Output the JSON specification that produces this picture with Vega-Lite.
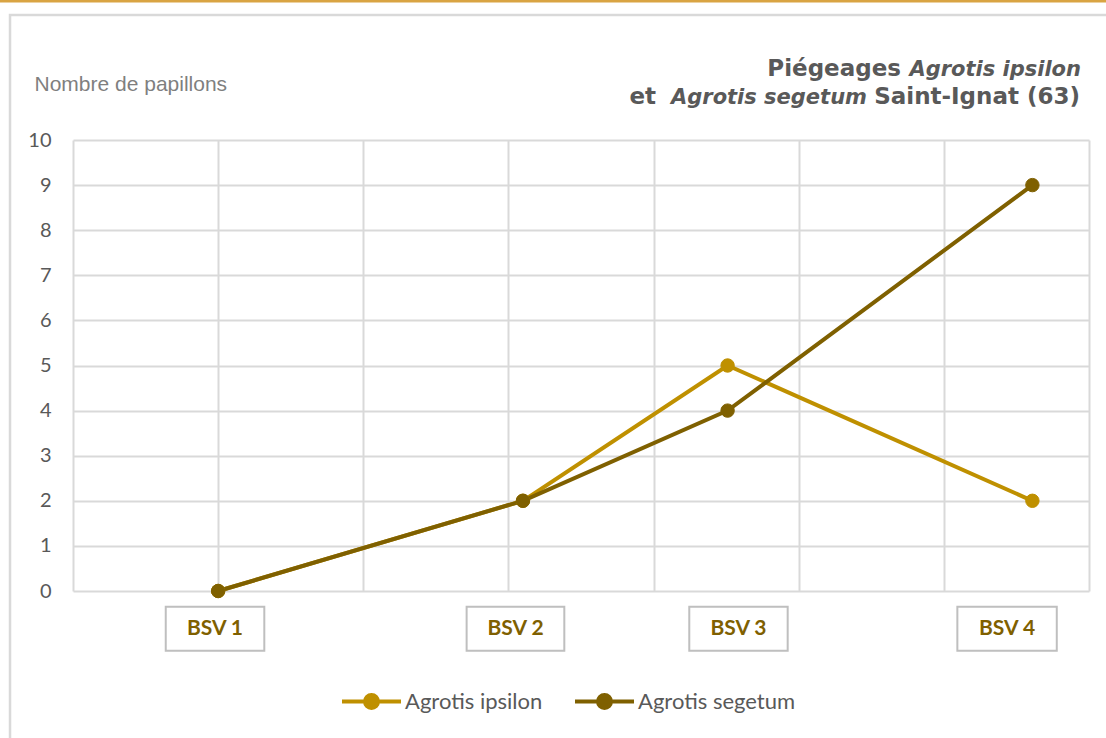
{
  "$schema": "https://vega.github.io/schema/vega-lite/v6.json",
  "autosize": {"type": "none"},
  "width": 1016,
  "height": 451,
  "padding": {"left": 73, "top": 140, "right": 17, "bottom": 147},
  "background": "white",
  "config": {"view": {"stroke": null}, "font": "Lato"},
  "datasets": {
    "series": [
      {"bsv": "BSV 1", "pos": 1.0, "espece": "Agrotis ipsilon", "papillons": 0},
      {"bsv": "BSV 2", "pos": 3.1, "espece": "Agrotis ipsilon", "papillons": 2},
      {"bsv": "BSV 3", "pos": 4.51, "espece": "Agrotis ipsilon", "papillons": 5},
      {"bsv": "BSV 4", "pos": 6.61, "espece": "Agrotis ipsilon", "papillons": 2},
      {"bsv": "BSV 1", "pos": 1.0, "espece": "Agrotis segetum", "papillons": 0},
      {"bsv": "BSV 2", "pos": 3.1, "espece": "Agrotis segetum", "papillons": 2},
      {"bsv": "BSV 3", "pos": 4.51, "espece": "Agrotis segetum", "papillons": 4},
      {"bsv": "BSV 4", "pos": 6.61, "espece": "Agrotis segetum", "papillons": 9}
    ],
    "boxes": [
      {"bsv": "BSV 1", "x_debut": 0.639, "x_fin": 1.318, "x_centre": 0.978},
      {"bsv": "BSV 2", "x_debut": 2.712, "x_fin": 3.385, "x_centre": 3.049},
      {"bsv": "BSV 3", "x_debut": 4.246, "x_fin": 4.924, "x_centre": 4.585},
      {"bsv": "BSV 4", "x_debut": 6.093, "x_fin": 6.778, "x_centre": 6.435}
    ]
  },
  "layer": [
    {
      "data": {"name": "series"},
      "mark": {"type": "line", "strokeWidth": 4},
      "encoding": {
        "x": {
          "field": "pos", "type": "quantitative",
          "scale": {"domain": [0, 7], "nice": false, "zero": false},
          "axis": {"values": [0, 1, 2, 3, 4, 5, 6, 7], "grid": true, "gridColor": "#D9D9D9", "gridWidth": 2, "labels": false, "ticks": false, "domain": false, "title": null}
        },
        "y": {
          "field": "papillons", "type": "quantitative",
          "scale": {"domain": [0, 10], "nice": false},
          "axis": {"values": [0, 1, 2, 3, 4, 5, 6, 7, 8, 9, 10], "grid": true, "gridColor": "#D9D9D9", "gridWidth": 2, "domain": false, "ticks": false, "labelPadding": 22, "labelFont": "Lato", "labelFontSize": 20, "labelColor": "#595959", "title": "Nombre de papillons", "titleAngle": 0, "titleAlign": "left", "titleBaseline": "middle", "titleX": -39, "titleY": -56, "titleFont": "Liberation Sans", "titleFontSize": 21, "titleFontWeight": "normal", "titleColor": "#7F7F7F"}
        },
        "color": {"field": "espece", "type": "nominal", "scale": {"domain": ["Agrotis ipsilon", "Agrotis segetum"], "range": ["#BF9000", "#7F6000"]}, "legend": {"orient": "none", "legendX": 267, "legendY": 530, "direction": "horizontal", "title": null, "symbolType": "M-1,0L1,0M-0.22,0A0.22,0.22 0 1,0 0.22,0A0.22,0.22 0 1,0 -0.22,0", "symbolSize": 3481, "symbolStrokeWidth": 4, "labelFont": "Lato", "labelFontSize": 22, "labelColor": "#595959", "labelOffset": 2, "columnPadding": 24}}
      }
    },
    {
      "data": {"name": "series"},
      "mark": {"type": "point", "filled": true, "size": 180, "opacity": 1, "strokeWidth": 1},
      "encoding": {
        "x": {"field": "pos", "type": "quantitative"},
        "y": {"field": "papillons", "type": "quantitative"},
        "color": {"field": "espece", "type": "nominal"},
        "stroke": {"field": "espece", "type": "nominal", "scale": {"domain": ["Agrotis ipsilon", "Agrotis segetum"], "range": ["#BF9000", "#7F6000"]}, "legend": {"orient": "none", "legendX": 267, "legendY": 530, "direction": "horizontal", "title": null, "symbolType": "M-1,0L1,0M-0.22,0A0.22,0.22 0 1,0 0.22,0A0.22,0.22 0 1,0 -0.22,0", "symbolSize": 3481, "symbolStrokeWidth": 4, "labelFont": "Lato", "labelFontSize": 22, "labelColor": "#595959", "labelOffset": 2, "columnPadding": 24}}
      }
    },
    {
      "data": {"values": [{}]},
      "mark": {"type": "rect", "fill": null, "stroke": "#D9D9D9", "strokeWidth": 2.5, "clip": false},
      "encoding": {
        "x": {"datum": -0.434, "type": "quantitative"},
        "x2": {"datum": 8},
        "y": {"datum": 12.77, "type": "quantitative"},
        "y2": {"datum": -5}
      }
    },
    {
      "data": {"values": [{}]},
      "mark": {"type": "rule", "stroke": "#D9A443", "strokeWidth": 3},
      "encoding": {
        "x": {"datum": -1, "type": "quantitative"},
        "x2": {"datum": 8},
        "y": {"datum": 13.08, "type": "quantitative"}
      }
    },
    {
      "data": {"values": [{}]},
      "mark": {"type": "text", "text": "Agrotis ipsilon", "font": "DejaVu Sans", "fontSize": 21, "fontWeight": "bold", "fontStyle": "italic", "color": "#595959", "align": "right", "baseline": "alphabetic", "dx": -8},
      "encoding": {
        "x": {"datum": 7, "type": "quantitative"},
        "y": {"datum": 11.42, "type": "quantitative"}
      }
    },
    {
      "data": {"values": [{}]},
      "mark": {"type": "text", "text": "Piégeages", "font": "DejaVu Sans", "fontSize": 23, "fontWeight": "bold", "color": "#595959", "align": "right", "baseline": "alphabetic", "dx": -188},
      "encoding": {
        "x": {"datum": 7, "type": "quantitative"},
        "y": {"datum": 11.42, "type": "quantitative"}
      }
    },
    {
      "data": {"values": [{}]},
      "mark": {"type": "text", "text": "Saint-Ignat (63)", "font": "DejaVu Sans", "fontSize": 23, "fontWeight": "bold", "color": "#595959", "align": "right", "baseline": "alphabetic", "dx": -9},
      "encoding": {
        "x": {"datum": 7, "type": "quantitative"},
        "y": {"datum": 10.8, "type": "quantitative"}
      }
    },
    {
      "data": {"values": [{}]},
      "mark": {"type": "text", "text": "Agrotis segetum", "font": "DejaVu Sans", "fontSize": 21, "fontWeight": "bold", "fontStyle": "italic", "color": "#595959", "align": "right", "baseline": "alphabetic", "dx": -222},
      "encoding": {
        "x": {"datum": 7, "type": "quantitative"},
        "y": {"datum": 10.8, "type": "quantitative"}
      }
    },
    {
      "data": {"values": [{}]},
      "mark": {"type": "text", "text": "et", "font": "DejaVu Sans", "fontSize": 23, "fontWeight": "bold", "color": "#595959", "align": "right", "baseline": "alphabetic", "dx": -433},
      "encoding": {
        "x": {"datum": 7, "type": "quantitative"},
        "y": {"datum": 10.8, "type": "quantitative"}
      }
    },
    {
      "data": {"name": "boxes"},
      "mark": {"type": "rect", "fill": "white", "stroke": "#BFBFBF", "strokeWidth": 2},
      "encoding": {
        "x": {"field": "x_debut", "type": "quantitative"},
        "x2": {"field": "x_fin"},
        "y": {"datum": -0.347, "type": "quantitative"},
        "y2": {"datum": -1.323}
      }
    },
    {
      "data": {"name": "boxes"},
      "mark": {"type": "text", "font": "Lato", "fontSize": 21, "fontWeight": "bold", "color": "#7F6000", "align": "center", "baseline": "middle"},
      "encoding": {
        "x": {"field": "x_centre", "type": "quantitative"},
        "y": {"datum": -0.836, "type": "quantitative"},
        "text": {"field": "bsv", "type": "nominal"}
      }
    }
  ]
}
